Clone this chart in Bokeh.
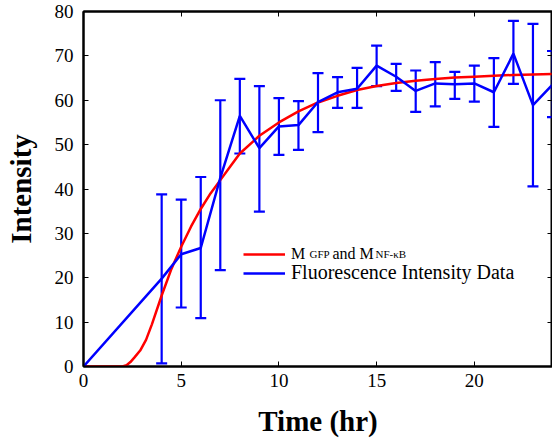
from bokeh.plotting import figure
from bokeh.models import (ColumnDataSource, Whisker, TeeHead, LinearAxis, Legend,
                          LegendItem, Label, FixedTicker, Range1d)
from bokeh.embed import file_html
from bokeh.resources import INLINE

# ---- data ----
model_time = [0, 1, 2, 2.2, 2.4, 2.6, 2.9, 3.2, 3.5, 4, 4.5, 5, 5.5, 6, 6.5, 7, 7.5, 8,
              9, 10, 11, 12, 13, 14, 15, 16, 17, 18, 19, 20, 21, 22, 23, 24]
model_value = [0, 0, 0, 0.3, 1.0, 2.0, 3.6, 6.0, 9.5, 16, 22, 27, 31.5, 35.5, 39, 42, 45, 48,
               52, 55, 57.5, 59.5, 61, 62.3, 63.2, 63.9, 64.4, 64.8, 65.1, 65.3, 65.5, 65.7, 65.8, 65.9]

data_time = [0, 4, 5, 6, 7, 8, 9, 10, 11, 12, 13, 14, 15, 16, 17, 18, 19, 20, 21, 22, 23, 24]
data_mean = [0, 19.8, 25.3, 26.7, 42.5, 56.5, 49.2, 54.1, 54.4, 59.6, 61.8, 62.6, 67.8, 65.3,
             62.1, 63.8, 63.6, 63.8, 61.8, 70.5, 58.9, 63.5]
data_upper = [0, 38.8, 37.6, 42.7, 60.0, 64.8, 63.2, 60.5, 59.8, 66.1, 65.2, 67.3, 72.3, 68.2,
              66.7, 68.6, 66.4, 67.8, 69.5, 77.9, 77.2, 71.1]
data_lower = [0, 0.7, 13.3, 10.9, 21.7, 48.0, 34.9, 47.7, 48.8, 52.8, 58.3, 58.3, 63.2, 62.1,
              57.4, 58.6, 60.3, 59.7, 54.0, 63.7, 40.6, 56.2]

x_ticks = [0, 5, 10, 15, 20]
y_ticks = [0, 10, 20, 30, 40, 50, 60, 70, 80]

FONT = "Liberation Serif"
RED = "#ff0000"
BLUE = "#0000ff"

p = figure(width=552, height=445, output_backend="svg", toolbar_location=None,
           x_range=Range1d(0, 24), y_range=Range1d(0, 80),
           min_border_left=83, min_border_right=0, min_border_top=11, min_border_bottom=79)
p.background_fill_color = "white"
p.border_fill_color = "white"
p.outline_line_color = "black"
p.outline_line_width = 2
p.xgrid.visible = False
p.ygrid.visible = False

model_src = ColumnDataSource(dict(t=model_time, v=model_value))
data_src = ColumnDataSource(dict(t=data_time, m=data_mean, up=data_upper, lo=data_lower))

r_model = p.line("t", "v", source=model_src, line_color=RED, line_width=2.5)
r_data = p.line("t", "m", source=data_src, line_color=BLUE, line_width=2.5)
wh = Whisker(base="t", upper="up", lower="lo", source=data_src,
             line_color=BLUE, line_width=2.2,
             upper_head=TeeHead(size=11, line_color=BLUE, line_width=2.2),
             lower_head=TeeHead(size=11, line_color=BLUE, line_width=2.2))
p.add_layout(wh)

def style_axis(ax):
    ax.axis_line_color = "black"
    ax.axis_line_width = 2
    ax.major_tick_in = 5
    ax.major_tick_out = 0
    ax.major_tick_line_width = 1
    ax.minor_tick_line_color = None
    ax.major_label_text_font = FONT
    ax.major_label_text_font_size = "19px"
    ax.major_label_text_color = "black"
    ax.axis_label_text_font = FONT
    ax.axis_label_text_font_size = "29px"
    ax.axis_label_text_font_style = "bold"
    ax.axis_label_text_color = "black"

xa = p.xaxis[0]
ya = p.yaxis[0]
style_axis(xa)
style_axis(ya)
xa.ticker = FixedTicker(ticks=x_ticks)
ya.ticker = FixedTicker(ticks=y_ticks)
xa.axis_label = "Time (hr)"
ya.axis_label = "Intensity"
xa.major_label_standoff = 7
xa.axis_label_standoff = 15
ya.major_label_standoff = 10
ya.axis_label_standoff = 15

top = LinearAxis(ticker=FixedTicker(ticks=x_ticks[1:]))
right = LinearAxis(ticker=FixedTicker(ticks=y_ticks[1:-1]))
for ax in (top, right):
    style_axis(ax)
    ax.major_label_text_font_size = "0px"
    ax.major_label_standoff = 0
top.major_label_overrides = {t: "" for t in x_ticks[1:]}
right.major_label_overrides = {t: "" for t in y_ticks[1:-1]}
p.add_layout(top, "above")
p.add_layout(right, "right")

def make_legend(item, size, loc):
    lg = Legend(items=[item], location=loc, padding=0, margin=0, spacing=0,
                glyph_width=42, glyph_height=20, label_height=20, label_standoff=6,
                border_line_color=None, background_fill_alpha=0,
                label_text_font=FONT, label_text_font_size=size,
                label_text_baseline="alphabetic", label_text_color="black")
    p.add_layout(lg)
    return lg

make_legend(LegendItem(label="M", renderers=[r_model]), "16px", (160, 102))
make_legend(LegendItem(label="Fluorescence Intensity Data", renderers=[r_data]), "20px", (160, 82))

# subscript parts of the first legend entry (frame-relative screen units)
sub_labels = [("GFP", 226, 113, "11px"), ("and M", 249, 113, "16px"), ("NF-\u03baB", 292, 113, "11px")]
for txt, x, y, fs in sub_labels:
    p.add_layout(Label(x=x, y=y, x_units="screen", y_units="screen", text=txt,
                       text_font=FONT, text_font_size=fs, text_color="black",
                       text_baseline="alphabetic"))

open("out.html", "w").write(file_html(p, INLINE))
